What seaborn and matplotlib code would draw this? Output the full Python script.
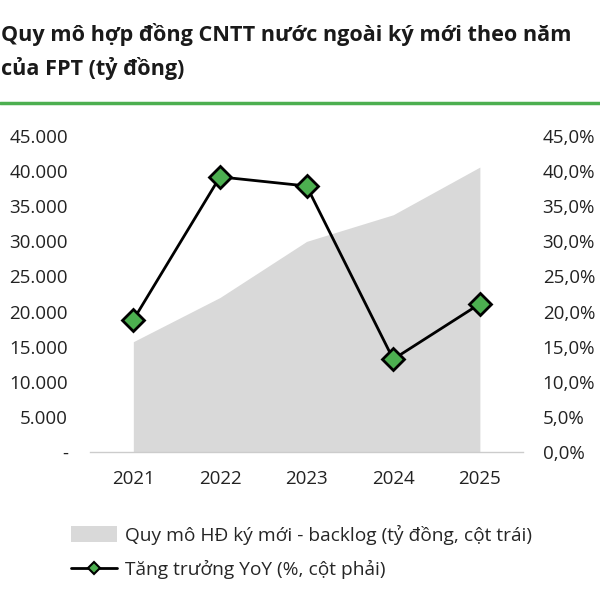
import numpy as np
import pandas as pd
import matplotlib
matplotlib.use('Agg')
import matplotlib.pyplot as plt
import seaborn as sns
from matplotlib.lines import Line2D
from matplotlib.patches import Patch
from matplotlib.ticker import FuncFormatter, FixedLocator

years = ['2021', '2022', '2023', '2024', '2025']
backlog = [15700, 22000, 30000, 33800, 40600]
growth = [18.8, 39.2, 37.9, 13.2, 21.1]

area_label = 'Quy mô HĐ ký mới - backlog (tỷ đồng, cột trái)'
line_label = 'Tăng trưởng YoY (%, cột phải)'

df = pd.DataFrame({'year': years, 'x': range(len(years)), 'backlog': backlog, 'growth': growth})

sns.set_theme(style='white')
plt.rcParams['font.family'] = ['Open Sans', 'DejaVu Sans']

fig = plt.figure(figsize=(6, 6), dpi=100)
ax = fig.add_axes([0.15, 0.247, 0.722, 0.526])
ax.fill_between(df['x'], df['backlog'], 0, color='#d9d9d9', linewidth=0, zorder=1)
ax.set_xlim(-0.5, len(years) - 0.5)
ax.set_ylim(0, 45000)
ax.yaxis.set_major_locator(FixedLocator(np.arange(0, 45001, 5000)))
ax.yaxis.set_major_formatter(FuncFormatter(lambda v, p: '-' if v == 0 else f'{int(v):,}'.replace(',', '.')))
ax.set_xticks(df['x'])
ax.set_xticklabels(years)
ax.set_xticks(np.arange(-0.5, len(years), 1), minor=True)
ax.tick_params(axis='x', which='major', length=0, pad=13, labelsize=13.5, colors='#222222')
ax.tick_params(axis='x', which='minor', length=7, width=1, color='#cccccc', direction='out')
ax.tick_params(axis='y', length=0, pad=16, labelsize=13.5, colors='#222222')
for s in ['top', 'left', 'right']:
    ax.spines[s].set_visible(False)
ax.spines['bottom'].set_color('#cccccc')
ax.spines['bottom'].set_linewidth(1)

ax2 = ax.twinx()
sns.lineplot(data=df, x='x', y='growth', ax=ax2, color='black', linewidth=2,
             marker='D', markersize=11, markerfacecolor='#4caf50',
             markeredgecolor='black', markeredgewidth=2, zorder=3)
ax2.set_ylim(0, 45)
ax2.yaxis.set_major_locator(FixedLocator(np.arange(0, 45.1, 5)))
ax2.yaxis.set_major_formatter(FuncFormatter(lambda v, p: f'{v:.1f}%'.replace('.', ',')))
ax2.tick_params(axis='y', length=0, pad=14, labelsize=13.5, colors='#222222')
ax2.set_ylabel('')
ax2.set_xlabel('')
ax.set_xlabel('')
for s in ['top', 'left', 'right', 'bottom']:
    ax2.spines[s].set_visible(False)

handles = [Patch(facecolor='#d9d9d9', edgecolor='none'),
           Line2D([0], [0], color='black', linewidth=2, marker='D', markersize=6,
                  markerfacecolor='#4caf50', markeredgecolor='black', markeredgewidth=1.5)]
fig.legend(handles, [area_label, line_label], loc='upper left', bbox_to_anchor=(0.105, 0.138),
           frameon=False, fontsize=13.8, handlelength=2.4, handleheight=0.9,
           handletextpad=0.45, labelspacing=0.8, borderaxespad=0)

fig.text(0.002, 0.943, 'Quy mô hợp đồng CNTT nước ngoài ký mới theo năm', fontsize=15.6,
         fontweight='bold', color='#1a1a1a', va='center')
fig.text(0.002, 0.885, 'của FPT (tỷ đồng)', fontsize=15.6,
         fontweight='bold', color='#1a1a1a', va='center')
fig.add_artist(Line2D([0, 1], [0.828, 0.828], color='#4caf50', linewidth=2.5))

fig.savefig('out.png', dpi=100)
